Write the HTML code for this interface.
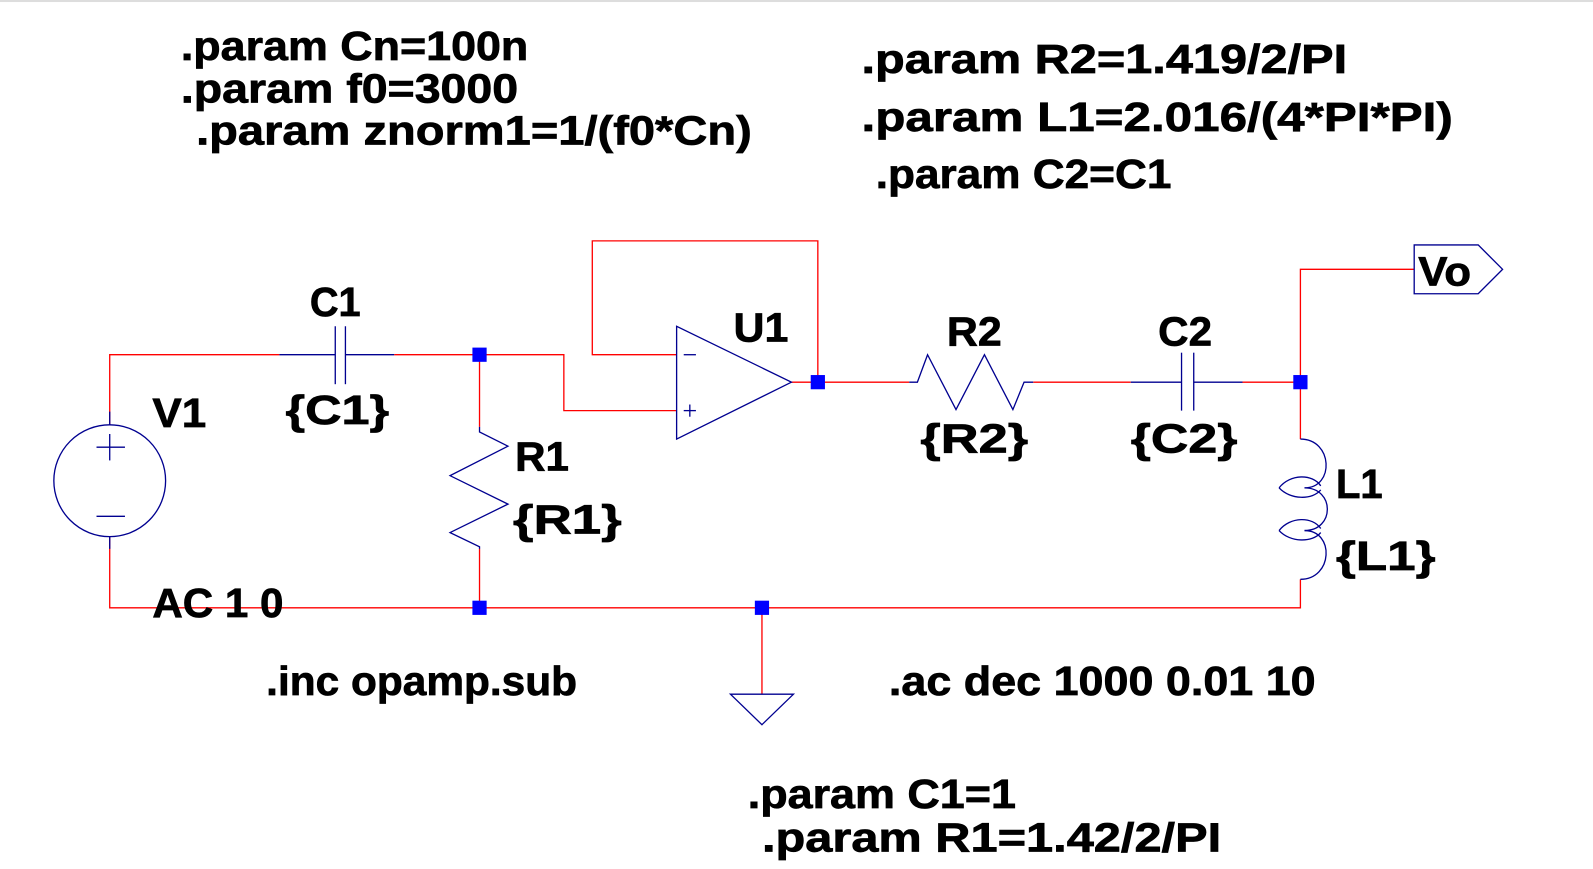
<!DOCTYPE html>
<html><head><meta charset="utf-8"><style>
html,body{margin:0;padding:0;background:#fff;width:1593px;height:869px;overflow:hidden}
svg{display:block}
text{font-family:"Liberation Sans",sans-serif;font-weight:bold;font-size:40px;fill:#000;stroke:#000;stroke-width:0.7}
</style></head><body>
<svg width="1593" height="869" viewBox="0 0 1568 855" preserveAspectRatio="none" xmlns="http://www.w3.org/2000/svg">
<rect x="0" y="0" width="1568" height="2" fill="#ddd"/>
<g fill="none" stroke-width="1.3">
<g stroke="#ff0000">
<polyline points="108,418 108,349 275,349"/>
<polyline points="388,349 555,349 555,404 666,404"/>
<polyline points="472,349 472,420"/>
<polyline points="666,349 583,349 583,237 805,237 805,376"/>
<polyline points="779,376 895,376"/>
<polyline points="1017,376 1113,376"/>
<polyline points="1223,376 1280,376"/>
<polyline points="1280,432 1280,265 1392,265"/>
<polyline points="108,528 108,598 1280,598 1280,570"/>
<polyline points="472,540 472,598"/>
<polyline points="750,598 750,683"/>
</g>
<g stroke="#000090">
<line x1="275" y1="349" x2="330" y2="349"/><line x1="340" y1="349" x2="388" y2="349"/>
<line x1="330" y1="321" x2="330" y2="378"/><line x1="340" y1="321" x2="340" y2="378"/>
<line x1="1113" y1="376" x2="1163" y2="376"/><line x1="1175" y1="376" x2="1223" y2="376"/>
<line x1="1163" y1="347" x2="1163" y2="404"/><line x1="1175" y1="347" x2="1175" y2="404"/>
<polygon points="666,321 666,432 779,376"/>
<line x1="673" y1="349" x2="685" y2="349"/>
<line x1="673" y1="404" x2="685" y2="404"/><line x1="679" y1="398" x2="679" y2="410"/>
<polyline points="895,376 903,376 913,349 941,403 969,349 997,403 1008,376 1017,376"/>
<polyline points="472,420 472,425 500,439 443,468 500,496 443,524 472,538 472,540"/>
<circle cx="108" cy="473" r="55"/>
<line x1="108" y1="418" x2="108" y2="405"/><line x1="108" y1="528" x2="108" y2="540"/>
<line x1="95" y1="440" x2="123" y2="440"/><line x1="108" y1="427" x2="108" y2="453"/>
<line x1="95" y1="508" x2="123" y2="508"/>
<polygon points="719,683 781,683 750,713"/>
<polygon points="1392,241 1455,241 1479,265 1455,289 1392,289"/>
<path d="M1280,432 C1312,432 1314,480 1284,480"/>
<path d="M1284,480 C1314,480 1314,522 1284,522"/>
<path d="M1284,522 C1314,522 1312,570 1280,570"/>
<path d="M1259,480 C1270,466 1292,466 1300,478 M1259,480 C1270,492 1292,492 1300,482"/>
<path d="M1259,522 C1270,508 1292,508 1300,520 M1259,522 C1270,534 1292,534 1300,524"/>
</g>
</g>
<g fill="#0000ff">
<rect x="465" y="342" width="14" height="14"/>
<rect x="798" y="369" width="14" height="14"/>
<rect x="1273" y="369" width="14" height="14"/>
<rect x="465" y="591" width="14" height="14"/>
<rect x="743" y="591" width="14" height="14"/>
</g>
<text x="178" y="59" textLength="342" lengthAdjust="spacingAndGlyphs">.param Cn=100n</text>
<text x="178" y="101" textLength="332" lengthAdjust="spacingAndGlyphs">.param f0=3000</text>
<text x="193" y="142" textLength="547" lengthAdjust="spacingAndGlyphs">.param znorm1=1/(f0*Cn)</text>
<text x="848" y="72" textLength="478" lengthAdjust="spacingAndGlyphs">.param R2=1.419/2/PI</text>
<text x="848" y="129" textLength="582" lengthAdjust="spacingAndGlyphs">.param L1=2.016/(4*PI*PI)</text>
<text x="862" y="185" textLength="291" lengthAdjust="spacingAndGlyphs">.param C2=C1</text>
<text x="305" y="311" textLength="50" lengthAdjust="spacingAndGlyphs">C1</text>
<text x="281" y="417" textLength="102" lengthAdjust="spacingAndGlyphs">{C1}</text>
<text x="150" y="420" textLength="53" lengthAdjust="spacingAndGlyphs">V1</text>
<text x="722" y="336" textLength="54" lengthAdjust="spacingAndGlyphs">U1</text>
<text x="507" y="463" textLength="53" lengthAdjust="spacingAndGlyphs">R1</text>
<text x="505" y="525" textLength="107" lengthAdjust="spacingAndGlyphs">{R1}</text>
<text x="150" y="607" textLength="129" lengthAdjust="spacingAndGlyphs">AC 1 0</text>
<text x="932" y="340" textLength="54" lengthAdjust="spacingAndGlyphs">R2</text>
<text x="906" y="445" textLength="106" lengthAdjust="spacingAndGlyphs">{R2}</text>
<text x="1140" y="340" textLength="53" lengthAdjust="spacingAndGlyphs">C2</text>
<text x="1113" y="445" textLength="105" lengthAdjust="spacingAndGlyphs">{C2}</text>
<text x="1315" y="490" textLength="46" lengthAdjust="spacingAndGlyphs">L1</text>
<text x="1315" y="561" textLength="98" lengthAdjust="spacingAndGlyphs">{L1}</text>
<text x="1396" y="281" textLength="52" lengthAdjust="spacingAndGlyphs">Vo</text>
<text x="262" y="684" textLength="306" lengthAdjust="spacingAndGlyphs">.inc opamp.sub</text>
<text x="875" y="684" textLength="420" lengthAdjust="spacingAndGlyphs">.ac dec 1000 0.01 10</text>
<text x="736" y="795" textLength="264" lengthAdjust="spacingAndGlyphs">.param C1=1</text>
<text x="750" y="838" textLength="452" lengthAdjust="spacingAndGlyphs">.param R1=1.42/2/PI</text>
</svg>
</body></html>
